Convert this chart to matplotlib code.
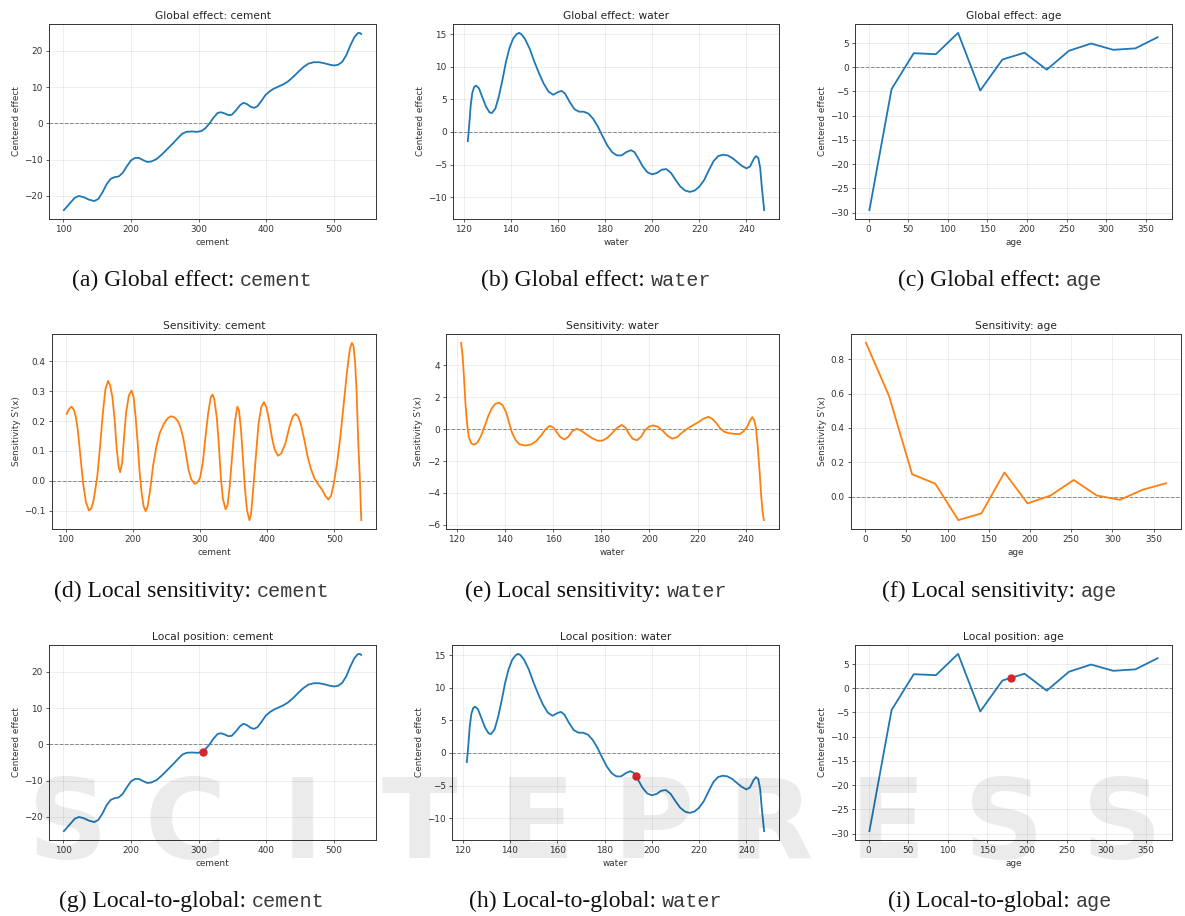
import matplotlib
matplotlib.use("Agg")
import matplotlib.pyplot as plt

# ---- data -------------------------------------------------------------
cement_x = [101, 110, 117, 123, 130, 138, 146, 152, 158, 164, 170, 176, 182,
            188, 194, 200, 206, 212, 218, 224, 230, 238, 246, 254, 262, 270,
            276, 282, 290, 298, 304, 310, 316, 322, 328, 333, 338, 344, 349,
            355, 361, 366, 371, 377, 382, 387, 393, 399, 405, 411, 418, 425,
            432, 440, 448, 455, 462, 470, 478, 486, 494, 500, 506, 512, 518,
            524, 530, 535, 538, 540]
cement_effect = [-23.9, -22.0, -20.5, -20.0, -20.3, -21.0, -21.4, -20.8, -19.0,
                 -16.8, -15.3, -14.8, -14.6, -13.6, -11.8, -10.2, -9.5, -9.5,
                 -10.1, -10.6, -10.5, -9.8, -8.5, -7.0, -5.5, -3.9, -2.8, -2.3,
                 -2.2, -2.3, -2.1, -1.3, 0.0, 1.6, 2.9, 3.1, 2.8, 2.3, 2.4, 3.6,
                 5.0, 5.7, 5.4, 4.6, 4.3, 4.8, 6.3, 7.9, 8.9, 9.6, 10.2, 10.8,
                 11.6, 12.9, 14.4, 15.6, 16.5, 16.9, 16.9, 16.6, 16.2, 16.0,
                 16.2, 17.0, 18.8, 21.5, 23.8, 24.9, 25.0, 24.7]

water_x = [121.8, 122.5, 123.0, 123.7, 124.5, 125.3, 126.5, 128.0, 129.5, 131.0,
           132.0, 133.5, 135.0, 136.5, 138.0, 139.5, 141.0, 142.5, 143.5, 144.5,
           146.0, 148.0, 150.0, 152.0, 154.0, 156.0, 158.0, 160.0, 161.5, 163.0,
           165.0, 167.0, 169.0, 171.0, 173.0, 175.0, 177.0, 179.0, 181.0, 183.0,
           185.0, 187.0, 189.0, 191.0, 192.5, 194.0, 196.0, 198.0, 200.0, 202.0,
           204.0, 206.0, 208.0, 210.0, 212.0, 214.0, 216.0, 218.0, 220.0, 222.0,
           224.0, 226.0, 228.0, 230.0, 232.0, 234.0, 236.0, 238.0, 240.0, 241.5,
           243.0, 244.0, 245.0, 245.8, 246.5, 247.5]
water_effect = [-1.4, 1.5, 4.0, 6.0, 6.9, 7.1, 6.7, 5.3, 3.9, 3.0, 2.9, 3.6, 5.5,
                8.0, 10.8, 12.9, 14.3, 15.0, 15.2, 15.0, 14.3, 12.8, 10.8, 9.0,
                7.4, 6.2, 5.7, 6.1, 6.3, 5.9, 4.6, 3.5, 3.1, 3.1, 2.8, 2.0, 0.8,
                -0.7, -2.1, -3.1, -3.6, -3.6, -3.1, -2.8, -3.1, -4.0, -5.3, -6.2,
                -6.5, -6.3, -5.8, -5.7, -6.3, -7.4, -8.4, -9.0, -9.2, -9.0, -8.4,
                -7.4, -5.9, -4.5, -3.7, -3.5, -3.6, -4.0, -4.6, -5.2, -5.6, -5.3,
                -4.2, -3.7, -4.0, -5.5, -8.5, -12.0]

age_x = [1, 29, 57, 85, 113, 141, 169, 197, 225, 253, 281, 309, 337, 365]
age_effect = [-29.5, -4.5, 2.9, 2.7, 7.1, -4.8, 1.6, 3.0, -0.5, 3.4, 4.9, 3.6,
              3.9, 6.2]

cement_sens_x = [101.5, 105, 108.5, 112, 115, 118, 122, 126, 130, 134.5, 138,
                 141, 144, 147, 151, 155, 159, 163, 166, 169.5, 173, 176, 179,
                 181, 184, 187, 190, 194, 198, 201, 204, 207, 210, 213, 216,
                 219, 222, 226, 230, 235, 240, 246, 252, 257, 262, 267, 271,
                 275, 279, 283, 287, 292, 296, 300, 304, 308, 312, 316, 318.5,
                 321, 325, 328, 331, 334, 338, 341, 344, 348, 352, 355.5, 358,
                 361, 364, 367, 370, 373.5, 376, 379, 383, 387, 391, 395, 399,
                 403, 407, 411, 416, 421, 427, 433, 438, 442, 446, 450, 455,
                 460, 465, 470, 476, 482, 487, 491, 495, 499, 504, 509, 514,
                 519, 523, 526, 528.5, 531, 533, 535.5, 538, 540]
cement_sens = [0.224, 0.240, 0.248, 0.238, 0.215, 0.170, 0.080, -0.010, -0.070,
               -0.099, -0.092, -0.070, -0.030, 0.016, 0.110, 0.220, 0.305,
               0.334, 0.320, 0.280, 0.200, 0.104, 0.045, 0.029, 0.060, 0.150,
               0.230, 0.285, 0.302, 0.280, 0.215, 0.130, 0.030, -0.040, -0.085,
               -0.101, -0.085, -0.025, 0.050, 0.115, 0.160, 0.190, 0.210, 0.216,
               0.212, 0.200, 0.178, 0.143, 0.090, 0.035, 0.005, -0.010, -0.005,
               0.010, 0.060, 0.145, 0.225, 0.280, 0.288, 0.275, 0.210, 0.120,
               0.010, -0.060, -0.095, -0.080, -0.020, 0.090, 0.200, 0.248,
               0.235, 0.170, 0.070, -0.030, -0.100, -0.131, -0.110, -0.030,
               0.080, 0.190, 0.245, 0.263, 0.245, 0.200, 0.145, 0.105, 0.084,
               0.092, 0.125, 0.180, 0.215, 0.224, 0.215, 0.190, 0.140, 0.082,
               0.040, 0.010, -0.012, -0.030, -0.052, -0.062, -0.050, -0.010,
               0.060, 0.150, 0.260, 0.370, 0.440, 0.461, 0.450, 0.390, 0.300,
               0.130, 0.000, -0.131]

water_sens_x = [121.8, 122.4, 123.0, 123.6, 124.3, 125.0, 126.0, 127.2, 128.5,
                130.0, 131.5, 133.0, 134.5, 136.0, 137.5, 139.0, 140.5, 141.8,
                143.0, 144.5, 146.0, 148.5, 151.0, 153.0, 155.0, 156.8, 158.5,
                160.0, 161.5, 163.0, 164.7, 166.3, 168.0, 169.8, 171.5, 173.5,
                176.0, 178.5, 180.5, 182.5, 184.5, 186.5, 188.5, 190.0, 191.5,
                193.0, 194.8, 196.5, 198.0, 199.8, 201.5, 203.5, 205.5, 207.5,
                209.5, 211.5, 213.5, 216.0, 218.5, 220.5, 222.5, 224.5, 226.0,
                227.8, 229.5, 231.0, 233.0, 235.5, 237.5, 239.0, 240.5, 241.8,
                242.7, 243.5, 244.2, 245.0, 245.7, 246.4, 247.0, 247.5]
water_sens = [5.4, 4.6, 3.2, 1.6, 0.3, -0.5, -0.9, -0.98, -0.85, -0.45, 0.15,
              0.80, 1.30, 1.58, 1.66, 1.50, 1.05, 0.35, -0.25, -0.70, -0.95,
              -1.03, -0.95, -0.75, -0.40, -0.02, 0.20, 0.12, -0.20, -0.50, -0.65,
              -0.48, -0.12, 0.02, -0.08, -0.30, -0.55, -0.73, -0.72, -0.55,
              -0.25, 0.08, 0.26, 0.10, -0.30, -0.60, -0.70, -0.48, -0.10, 0.15,
              0.23, 0.15, -0.10, -0.42, -0.60, -0.50, -0.22, 0.06, 0.28, 0.45,
              0.66, 0.77, 0.65, 0.37, 0.02, -0.16, -0.26, -0.30, -0.31, -0.15,
              0.12, 0.55, 0.75, 0.55, 0.10, -1.2, -2.6, -4.2, -5.2, -5.7]

age_sens = [0.894, 0.585, 0.131, 0.077, -0.135, -0.096, 0.142, -0.038, 0.008,
            0.098, 0.008, -0.017, 0.042, 0.079]

# local query points (feature value, centered effect)
local_cement = (307, -2.0)
local_water = (193.3, -3.5)
local_age = (180, 2.1)

features = ["cement", "water", "age"]
panel_letters = ["a", "b", "c", "d", "e", "f", "g", "h", "i"]
row_captions = ["Global effect", "Local sensitivity", "Local-to-global"]

BLUE = "#1f77b4"
ORANGE = "#ff7f0e"
RED = "#d62728"

fig = plt.figure(figsize=(11.85, 9.16), dpi=100)
W, H = 1185.0, 916.0


def make_axes(left, right, top, bottom):
    return fig.add_axes([left / W, 1 - bottom / H, (right - left) / W,
                         (bottom - top) / H])


def style(ax, title, xlabel, ylabel):
    ax.set_title(title, fontsize=7.7, pad=3.8, color="#222222")
    ax.set_xlabel(xlabel, fontsize=6.4, labelpad=2.5, color="#333333")
    ax.set_ylabel(ylabel, fontsize=6.4, labelpad=2.5, color="#333333")
    ax.tick_params(labelsize=6.4, length=2.3, width=0.55, pad=2.2,
                   colors="#333333")
    ax.grid(True, color="#b0b0b0", alpha=0.3, lw=0.5)
    ax.axhline(0, color="gray", ls="--", lw=0.7, zorder=1)
    for s in ax.spines.values():
        s.set_linewidth(0.7)
        s.set_color("#333333")


col_bounds = [
    [(49, 376), (453, 779), (855, 1172)],
    [(52, 376), (446, 779), (851, 1181)],
    [(49, 376), (452, 779), (855, 1172)],
]
row_bounds = [(24, 219), (334, 529), (645, 840)]

effects = [(cement_x, cement_effect), (water_x, water_effect),
           (age_x, age_effect)]
sens = [(cement_sens_x, cement_sens), (water_sens_x, water_sens),
        (age_x, age_sens)]
locals_ = [local_cement, local_water, local_age]

LW = 1.3
for c, feat in enumerate(features):
    # global effect
    t, b = row_bounds[0]
    l, r = col_bounds[0][c]
    ax = make_axes(l, r, t, b)
    ax.plot(*effects[c], color=BLUE, lw=LW, zorder=3)
    style(ax, f"Global effect: {feat}", feat, "Centered effect")

    # sensitivity
    t, b = row_bounds[1]
    l, r = col_bounds[1][c]
    ax = make_axes(l, r, t, b)
    ax.plot(*sens[c], color=ORANGE, lw=LW, zorder=3)
    style(ax, f"Sensitivity: {feat}", feat, "Sensitivity S'(x)")

    # local position
    t, b = row_bounds[2]
    l, r = col_bounds[2][c]
    ax = make_axes(l, r, t, b)
    ax.plot(*effects[c], color=BLUE, lw=LW, zorder=3)
    ax.plot([locals_[c][0]], [locals_[c][1]], "o", color=RED, ms=5, zorder=4)
    style(ax, f"Local position: {feat}", feat, "Centered effect")

# sub-figure captions: serif prefix followed by the feature name in monospace
fig.canvas.draw()
renderer = fig.canvas.get_renderer()
cap_centers = [192, 596, 1000]
cap_baselines = [286, 597, 907]
k = 0
for rr, base in enumerate(cap_baselines):
    for c, feat in enumerate(features):
        prefix = f"({panel_letters[k]}) {row_captions[rr]}: "
        k += 1
        y = 1 - base / H
        t1 = fig.text(0, y, prefix, family="Liberation Serif", fontsize=17,
                      va="baseline", ha="left", color="#111111")
        t2 = fig.text(0, y, feat, family="Liberation Mono", fontsize=14.5,
                      va="baseline", ha="left", color="#3a3a3a")
        w1 = t1.get_window_extent(renderer).width
        w2 = t2.get_window_extent(renderer).width
        x0 = cap_centers[c] - (w1 + w2) / 2
        t1.set_x(x0 / W)
        t2.set_x((x0 + w1) / W)

# publisher watermark across the bottom row
mark = "SCITEPRESS"
for i, ch in enumerate(mark):
    fig.text((10 + 117 * (i + 0.5)) / W, 1 - 828 / H, ch, fontsize=80,
             fontweight="bold", color="black", alpha=0.08, ha="center",
             va="center", zorder=10)

fig.savefig("out.png", dpi=100)
